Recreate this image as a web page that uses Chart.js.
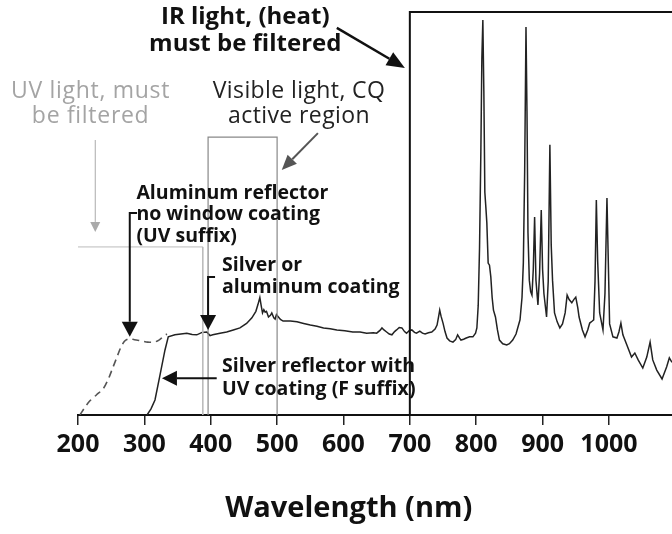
<!DOCTYPE html>
<html>
<head>
<meta charset="utf-8">
<script src="https://cdn.jsdelivr.net/npm/chart.js@4/dist/chart.umd.min.js"></script>
<style>
  html, body { margin: 0; padding: 0; background: #fff; }
  #wrap { width: 672px; height: 534px; }
</style>
</head>
<body>
<div id="wrap"><canvas id="spectrum" width="672" height="534"></canvas></div>
<script>
// Lamp emission spectrum, relative intensity vs wavelength
const fSuffixNm = [304, 310, 316, 323, 331, 336, 346, 355, 364, 372, 379, 387, 394, 399, 403, 414, 424, 434, 444, 454,
  462, 468, 471, 474, 476, 478, 480, 482, 484, 487, 490, 492, 495, 497, 499, 501, 505, 509, 520, 530,
  540, 550, 560, 570, 580, 590, 602, 614, 625, 635, 645, 650, 655, 658, 661, 665, 669, 673, 677, 680,
  684, 688, 692, 695, 699, 703, 707, 710, 715, 719, 723, 728, 733, 738, 741, 743, 745, 747, 750, 753,
  756, 760, 765, 769, 772, 775, 777, 781, 785, 790, 795, 799, 801, 803, 805, 807, 808.5, 810, 811.5, 813,
  814.5, 816, 818, 820, 822, 824, 826, 829, 832, 835, 840, 846, 850, 855, 860, 866, 869, 871, 873, 875,
  876.5, 878, 880, 882, 884, 886, 888, 890, 893, 895.5, 898, 900, 902, 906, 908.5, 911, 913, 915, 918, 922,
  926, 930, 934, 937, 940, 944, 947, 950, 953, 955, 960, 964, 968, 971, 975, 977, 979, 981, 983, 986,
  991, 994, 997, 999, 1001, 1006, 1012, 1015, 1018, 1021, 1027, 1034, 1039, 1044, 1051, 1057, 1062, 1066, 1072, 1080,
  1087, 1091, 1095];
const fSuffixIntensity = [0, 1.5, 3.7, 9.4, 16.0, 19.3, 19.8, 20.0, 20.2, 19.9, 19.8, 20.4, 20.5, 19.6, 19.8, 20.2, 20.5, 21.0, 21.5, 22.6,
  24.0, 25.6, 27.2, 29.0, 27.0, 25.2, 26.0, 25.4, 25.6, 24.2, 24.6, 25.2, 24.0, 23.7, 24.8, 24.4, 23.6, 23.2, 23.2, 23.0,
  22.6, 22.2, 21.9, 21.5, 21.3, 21.0, 20.8, 20.5, 20.5, 20.2, 20.3, 20.2, 20.9, 21.5, 21.0, 20.5, 20.0, 19.8, 20.6, 21.0,
  21.6, 21.5, 20.6, 20.2, 20.8, 21.0, 20.4, 20.2, 20.7, 20.2, 20.0, 20.3, 20.5, 21.2, 22.2, 24.0, 25.9, 24.4, 22.7, 20.6,
  19.0, 18.3, 18.0, 18.6, 19.8, 19.0, 18.5, 18.7, 19.0, 19.3, 19.3, 20.2, 21.5, 27.0, 41.2, 65, 88, 97.5, 80, 55,
  51.4, 47.5, 37.5, 37.0, 34.1, 29, 25.9, 24.2, 21.0, 18.5, 17.6, 17.3, 17.6, 18.5, 20.0, 23.5, 29, 37.5, 60, 95.8,
  75, 45, 33.3, 30.5, 29.6, 36, 48.9, 33.3, 27.2, 35, 50.6, 36, 30.0, 24.2, 33, 66.7, 42, 33.3, 25.2, 23.0,
  21.5, 22.5, 25.2, 29.6, 28.5, 27.7, 28.5, 29.1, 26.5, 24.2, 21.0, 19.3, 21.0, 22.7, 23.2, 23.5, 33, 53.1, 38, 25.2,
  21.0, 30, 53.6, 38, 22.5, 19.3, 19.0, 20.5, 22.7, 19.8, 17.3, 14.3, 15.3, 13.6, 11.6, 14.3, 18.0, 13.6, 11.1, 8.9,
  11.9, 14.1, 13.0];

// Aluminum reflector without window coating: extra UV below ~335 nm
const uvSuffixNm = [203, 210, 218, 228, 238, 246, 252, 258, 264, 270, 276, 285, 295, 305, 315, 322, 328, 334];
const uvSuffixIntensity = [0, 1.8, 3.5, 5, 6.5, 9, 11.5, 14, 16.5, 18.2, 18.8, 18.6, 18.3, 18.0, 18.0, 18.5, 19.3, 20.0];

// Spectral region outlines (UV, visible / CQ active, IR)
const uvRegionNm = [200, 388, 388];
const uvRegionLevel = [41.5, 41.5, 0];
const visibleRegionNm = [396, 396, 500, 500];
const visibleRegionLevel = [0, 68.6, 68.6, 0];
const irRegionNm = [700, 700, 1095];
const irRegionLevel = [0, 99.5, 99.5];

const tickLabels = [200, 300, 400, 500, 600, 700, 800, 900, 1000];
const axisTitle = 'Wavelength (nm)';

const FONT = '"Open Sans", "Noto Sans", sans-serif';

function pts(xs, ys) { return xs.map((x, i) => ({ x: x, y: ys[i] })); }

// Callout texts, anchored in data units (nm, relative intensity)
const callouts = [
  { lines: ['IR light, (heat)', 'must be filtered'], x: 452, y: [98.2, 91.6], align: 'center', size: 24, weight: '700', color: '#111', spacing: 0 },
  { lines: ['UV light, must', 'be filtered'], x: 219, y: [79.8, 73.6], align: 'center', size: 23, weight: '400', color: '#a4a4a4', spacing: 0.7 },
  { lines: ['Visible light, CQ', 'active region'], x: 533, y: [79.8, 73.6], align: 'center', size: 23, weight: '400', color: '#222', spacing: 0.4 },
  { lines: ['Aluminum reflector', 'no window coating', '(UV suffix)'], x: 288, y: [54.8, 49.4, 44.0], align: 'left', size: 19.5, weight: '700', color: '#111', spacing: 0 },
  { lines: ['Silver or', 'aluminum coating'], x: 417, y: [37.0, 31.4], align: 'left', size: 19.5, weight: '700', color: '#111', spacing: 0 },
  { lines: ['Silver reflector with', 'UV coating (F suffix)'], x: 417, y: [11.9, 6.2], align: 'left', size: 19.5, weight: '700', color: '#111', spacing: 0 }
];

// Pointer arrows: optional bracket start, then shaft to the tip
const pointers = [
  { path: [[590, 95.6], [692.5, 85.7]], color: '#111', width: 2.5, head: 18, headW: 15 },
  { path: [[561.5, 69.6], [507, 60.5]], color: '#555', width: 2, head: 15, headW: 13 },
  { path: [[226, 67.9], [226, 45.2]], color: '#aaa', width: 1, head: 10, headW: 10 },
  { path: [[289, 49.9], [278, 49.9], [278, 19.3]], color: '#111', width: 2, head: 15, headW: 16 },
  { path: [[406.5, 34.1], [396, 34.1], [396, 21.0]], color: '#111', width: 2, head: 15, headW: 16 },
  { path: [[409, 9.1], [326.5, 9.1]], color: '#111', width: 2, head: 15, headW: 15 }
];

const whiteBackground = {
  id: 'whiteBackground',
  beforeDraw(chart) {
    const c = chart.ctx;
    c.save();
    c.fillStyle = '#fff';
    c.fillRect(0, 0, chart.width, chart.height);
    c.restore();
  }
};

const calloutLayer = {
  id: 'calloutLayer',
  afterDraw(chart) {
    const c = chart.ctx;
    const xs = chart.scales.x, ys = chart.scales.y;
    c.save();
    pointers.forEach(p => {
      const P = p.path.map(q => [xs.getPixelForValue(q[0]), ys.getPixelForValue(q[1])]);
      const n = P.length;
      const tip = P[n - 1], prev = P[n - 2];
      const ang = Math.atan2(tip[1] - prev[1], tip[0] - prev[0]);
      const baseX = tip[0] - Math.cos(ang) * p.head, baseY = tip[1] - Math.sin(ang) * p.head;
      c.strokeStyle = p.color;
      c.fillStyle = p.color;
      c.lineWidth = p.width;
      c.beginPath();
      c.moveTo(P[0][0], P[0][1]);
      for (let i = 1; i < n - 1; i++) c.lineTo(P[i][0], P[i][1]);
      c.lineTo(baseX, baseY);
      c.stroke();
      const nx = -Math.sin(ang) * p.headW / 2, ny = Math.cos(ang) * p.headW / 2;
      c.beginPath();
      c.moveTo(tip[0], tip[1]);
      c.lineTo(baseX + nx, baseY + ny);
      c.lineTo(baseX - nx, baseY - ny);
      c.closePath();
      c.fill();
    });
    callouts.forEach(t => {
      c.font = t.weight + ' ' + t.size + 'px ' + FONT;
      c.letterSpacing = t.spacing + 'px';
      c.fillStyle = t.color;
      c.textAlign = t.align;
      c.textBaseline = 'middle';
      const px = xs.getPixelForValue(t.x);
      t.lines.forEach((ln, i) => c.fillText(ln, px, ys.getPixelForValue(t.y[i])));
    });
    // Axis title, set under the middle of the labelled range
    c.letterSpacing = '0px';
    c.font = '700 29px ' + FONT;
    c.fillStyle = '#111';
    c.textAlign = 'center';
    c.textBaseline = 'middle';
    c.fillText(axisTitle, xs.getPixelForValue(608), 509);
    c.restore();
  }
};

const regionStyle = (color, w) => ({
  borderColor: color, borderWidth: w, pointRadius: 0, showLine: true, fill: false, tension: 0, clip: false
});

new Chart(document.getElementById('spectrum'), {
  type: 'scatter',
  data: {
    datasets: [
      Object.assign({ label: 'UV region', data: pts(uvRegionNm, uvRegionLevel) }, regionStyle('#bbb', 1)),
      Object.assign({ label: 'Visible region', data: pts(visibleRegionNm, visibleRegionLevel) }, regionStyle('#888', 1.2)),
      Object.assign({ label: 'IR region', data: pts(irRegionNm, irRegionLevel) }, regionStyle('#111', 2)),
      {
        label: 'Aluminum reflector, no window coating (UV suffix)',
        data: pts(uvSuffixNm, uvSuffixIntensity),
        borderColor: '#555', borderWidth: 1.6, borderDash: [7, 5],
        pointRadius: 0, showLine: true, tension: 0.3
      },
      {
        label: 'Silver reflector with UV coating (F suffix)',
        data: pts(fSuffixNm, fSuffixIntensity),
        borderColor: '#222', borderWidth: 1.5,
        pointRadius: 0, showLine: true, tension: 0
      }
    ]
  },
  options: {
    responsive: false,
    devicePixelRatio: 1,
    animation: false,
    layout: { padding: { left: 78, right: 0, top: 10, bottom: 69 } },
    plugins: { legend: { display: false }, tooltip: { enabled: false } },
    scales: {
      y: { display: false, min: 0, max: 100 },
      x: {
        type: 'linear', min: 200, max: 1095,
        afterBuildTicks: s => { s.ticks = tickLabels.map(v => ({ value: v })); },
        grid: { drawOnChartArea: false, drawTicks: true, tickLength: 10, color: '#222', lineWidth: 1.5 },
        border: { display: true, color: '#111', width: 2 },
        ticks: {
          color: '#111', padding: 5, maxRotation: 0, autoSkip: false,
          font: { family: FONT, size: 25, weight: '700' },
          callback: v => String(v)
        },
        title: { display: false }
      }
    }
  },
  plugins: [whiteBackground, calloutLayer]
});
</script>
</body>
</html>
